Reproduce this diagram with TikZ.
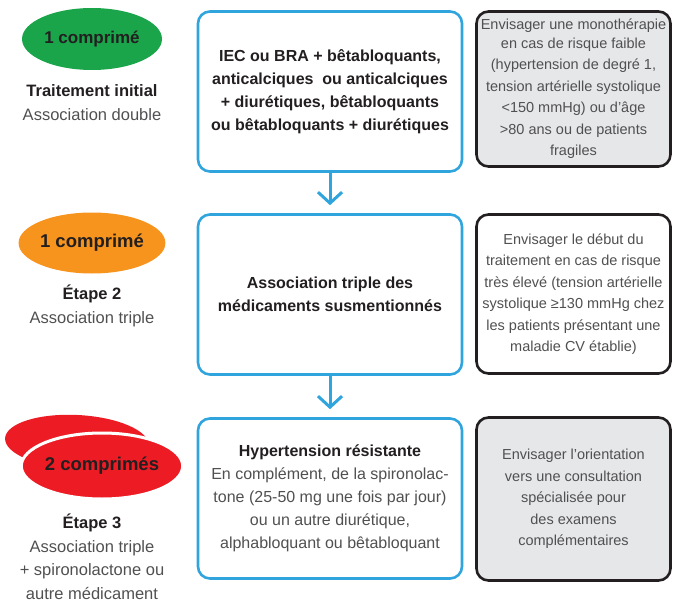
\documentclass[tikz,border=0pt]{standalone}
\usepackage{fontspec}
\setmainfont{Liberation Sans}
\usetikzlibrary{arrows.meta,shapes.geometric}

\definecolor{bluestep}{HTML}{2FA4DD}
\definecolor{greenpill}{HTML}{1BA54B}
\definecolor{orangepill}{HTML}{F7941E}
\definecolor{redpill}{HTML}{ED1C24}
\definecolor{notegray}{HTML}{E6E7E8}
\definecolor{txtdark}{HTML}{231F20}
\definecolor{txtgray}{HTML}{505052}

\begin{document}
\begin{tikzpicture}[x=1pt,y=-1pt]

\tikzstyle{stepbox} = [draw=bluestep, line width=2.6pt, rounded corners=12pt,
  minimum width=264pt, minimum height=160pt, inner sep=0pt, align=center,
  text=txtdark, font=\fontsize{16}{23}\selectfont]
\tikzstyle{notebox} = [draw=txtdark, line width=2.6pt, rounded corners=12pt,
  minimum width=194pt, inner sep=0pt, align=center,
  text=txtgray, font=\fontsize{14.5}{21.5}\selectfont]
\tikzstyle{pill} = [ellipse, inner sep=0pt, text=txtdark,
  font=\fontsize{17}{20}\selectfont\bfseries]
\tikzstyle{steplabel} = [align=center, text=txtgray, inner sep=0pt,
  font=\fontsize{16.5}{23.5}\selectfont]
\tikzstyle{flow} = [draw=bluestep, line width=3pt,
  -{Straight Barb[length=11pt,width=24pt]}, shorten >=8pt]

\useasboundingbox (0,0) rectangle (675,602);

% left column
\node[pill, fill=greenpill, minimum width=140pt, minimum height=62pt]
  (pill1) at (92,39) {1 comprimé};
\node[steplabel] (lab1) at (92,102.5)
  {\textcolor{txtdark}{\bfseries Traitement initial}\\Association double};

\node[pill, fill=orangepill, minimum width=140pt, minimum height=61pt,
  font=\fontsize{18.5}{20}\selectfont\bfseries]
  (pill2) at (92,243) {1 comprimé};
\node[steplabel] (lab2) at (92,306)
  {\textcolor{txtdark}{\bfseries Étape 2}\\Association triple};

\node[pill, fill=redpill, minimum width=144pt, minimum height=54pt, rotate=-3]
  (pill3b) at (77,442) {};
\node[pill, fill=redpill, draw=white, line width=3pt,
  minimum width=146pt, minimum height=66pt,
  font=\fontsize{18.5}{20}\selectfont\bfseries]
  (pill3) at (102,466) {2 comprimés};
\node[steplabel] (lab3) at (92,557)
  {\textcolor{txtdark}{\bfseries Étape 3}\\Association triple\\
   + spironolactone ou\\autre médicament};

% middle column
\node[stepbox, font=\fontsize{16}{23}\selectfont\bfseries] (trt1) at (330,91.5)
  {IEC ou BRA + bêtabloquants,\\anticalciques ~ou anticalciques\\
   + diurétiques, bêtabloquants\\ou bêtabloquants + diurétiques};
\node[stepbox, font=\fontsize{16}{23}\selectfont\bfseries] (trt2) at (330,294.5)
  {Association triple des\\médicaments susmentionnés};
\node[stepbox] (trt3) at (330,498.5)
  {{\bfseries Hypertension résistante}\\
   \textcolor{txtgray}{En complément, de la spironolac-}\\
   \textcolor{txtgray}{tone (25-50 mg une fois par jour)}\\
   \textcolor{txtgray}{ou un autre diurétique,}\\
   \textcolor{txtgray}{alphabloquant ou bêtabloquant}};

\draw[flow] (trt1) -- (trt2);
\draw[flow] (trt2) -- (trt3);

% right column
\node[notebox, fill=notegray, minimum height=155pt] (note1) at (573.5,89)
  {\raisebox{-3pt}{Envisager une monothérapie}\\en cas de risque faible\\
   (hypertension de degré 1,\\tension artérielle systolique\\
   <150 mmHg) ou d’âge\\>80 ans ou de patients\\fragiles};
\node[notebox, fill=white, minimum height=159pt] (note2) at (573.5,294)
  {Envisager le début du\\traitement en cas de risque\\
   très élevé (tension artérielle\\systolique ≥130 mmHg chez\\
   les patients présentant une\\maladie CV établie)};
\node[notebox, fill=notegray, minimum height=163pt] (note3) at (573.5,499)
  {Envisager l’orientation\\vers une consultation\\spécialisée pour\\
   des examens\\complémentaires};

\end{tikzpicture}
\end{document}
